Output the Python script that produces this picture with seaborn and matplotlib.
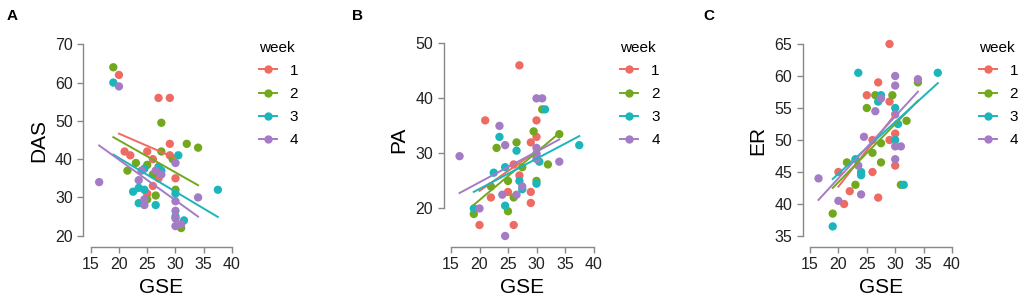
import numpy as np
import matplotlib
matplotlib.use("Agg")
import matplotlib.pyplot as plt
from matplotlib.lines import Line2D
import seaborn as sns
import pandas as pd

# (GSE, score) pairs, one list per week and panel
das_w1 = [(20, 62), (27, 56), (29, 56), (29, 44), (21, 42), (22, 41), (25, 42), (29, 41),
          (26, 40), (30, 35), (27, 35), (26, 33), (25, 31)]
das_w2 = [(19, 64), (27.5, 49.5), (32, 44), (34, 43), (27.5, 42), (29.5, 40), (23, 39),
          (25, 38.5), (21.5, 37), (26, 36), (30, 32), (26.5, 30.5), (25, 29.5), (31, 22)]
das_w3 = [(19, 60), (30.5, 41), (27, 38), (27.5, 37), (24.5, 37.5), (23.5, 32.5), (24.5, 32),
          (22.5, 31.5), (30, 31), (23.5, 28.5), (26.5, 28), (30, 25), (31.5, 24), (37.5, 32)]
das_w4 = [(16.5, 34), (20, 59), (30, 39), (24, 37), (26.5, 37), (27.5, 36), (23.5, 34.5),
          (24.5, 29.5), (24.5, 28), (30, 29), (30, 26.5), (30, 24.5), (30, 22.5), (31, 23), (34, 30)]

pa_w1 = [(27, 46), (21, 36), (30, 36), (30, 33), (29, 32), (26, 28), (27, 26), (25, 23),
         (29, 23), (22, 22), (29, 21), (20, 17), (26, 17)]
pa_w2 = [(19, 19), (23, 31), (26.5, 32), (29.5, 34), (31, 38), (34, 33.5), (32, 28), (27.5, 27.5),
         (25, 25), (30, 25), (22, 24), (26, 22), (25, 19.5)]
pa_w3 = [(19, 20), (23.5, 33), (26.5, 30.5), (24.5, 27.5), (22.5, 26.5), (27, 25), (27.5, 23.5),
         (30, 24.5), (30.5, 28.5), (31.5, 38), (24.5, 20.5), (37.5, 31.5)]
pa_w4 = [(16.5, 29.5), (20, 20), (23.5, 35), (24.5, 31.5), (24, 22.5), (26.5, 22.5), (27.5, 24),
         (24.5, 15), (30, 40), (31, 40), (30, 31), (30, 30), (30, 29.5), (30, 29), (34, 28.5)]

er_w1 = [(29, 65), (27, 59), (25, 57), (29, 56), (30, 51), (29, 50), (26, 50), (30, 46),
         (26, 45), (20, 45), (22, 42), (21, 40), (27, 41)]
er_w2 = [(19, 38.5), (21.5, 46.5), (23, 43), (25, 55), (26.5, 57), (29.5, 57), (26, 48),
         (27.5, 49.5), (27.5, 46.5), (31, 43), (32, 53), (34, 59)]
er_w3 = [(19, 36.5), (23.5, 60.5), (27, 56), (27.5, 57), (30, 55), (30.5, 52.5), (30, 50),
         (24, 45), (24, 44.5), (31.5, 43), (23, 47), (37.5, 60.5)]
er_w4 = [(16.5, 44), (20, 40.5), (23.5, 46), (24.5, 50.5), (26.5, 54.5), (27.5, 56.5), (30, 60),
         (30, 58.5), (30, 54), (30, 49), (31, 49), (30, 47), (24, 41.5), (34, 59.5)]

weeks = ["1", "2", "3", "4"]
colors = ["#EE6B63", "#72A81E", "#1BB6BC", "#A47CC6"]

W, H = 1021, 306
fig = plt.figure(figsize=(W / 100, H / 100), dpi=100)
plt.rcParams["font.family"] = ["Liberation Sans", "DejaVu Sans"]


def frame(rows, name):
    recs = []
    for wk, pts in zip(weeks, rows):
        for x, y in pts:
            recs.append({"GSE": x, name: y, "week": wk})
    return pd.DataFrame(recs)


panels = [
    ("A", 7, "DAS", [das_w1, das_w2, das_w3, das_w4], (90.7, 232), (44.3, 235.7), (20, 70), [20, 30, 40, 50, 60, 70]),
    ("B", 352, "PA", [pa_w1, pa_w2, pa_w3, pa_w4], (451, 593.5), (43.3, 236), (15, 50), [20, 30, 40, 50]),
    ("C", 703, "ER", [er_w1, er_w2, er_w3, er_w4], (810, 952), (44, 236), (35, 65), [35, 40, 45, 50, 55, 60, 65]),
]

for letter, lx, name, rows, (xl, xr), (yt, yb), ylim, yticks in panels:
    ax = fig.add_axes([xl / W, 1 - yb / H, (xr - xl) / W, (yb - yt) / H])
    df = frame(rows, name)
    for wk, c in zip(weeks, colors):
        sub = df[df["week"] == wk]
        sns.regplot(data=sub, x="GSE", y=name, ax=ax, ci=None, scatter=False,
                    color=c, line_kws={"lw": 1.4})
    sns.scatterplot(data=df, x="GSE", y=name, hue="week", palette=colors, ax=ax,
                    s=36, linewidth=0, legend=False, clip_on=False, zorder=1)
    ax.set_xlim(15, 40)
    ax.set_ylim(*ylim)
    ax.set_xticks([15, 20, 25, 30, 35, 40])
    ax.set_yticks(yticks)
    for s in ["top", "right"]:
        ax.spines[s].set_visible(False)
    ax.spines["left"].set_position(("outward", 5.4))
    ax.spines["bottom"].set_position(("outward", 7.9))
    ax.spines["left"].set_bounds(yticks[0], yticks[-1])
    ax.spines["bottom"].set_bounds(15, 40)
    for s in ["left", "bottom"]:
        ax.spines[s].set_color("#888888")
        ax.spines[s].set_linewidth(1.0)
    ax.tick_params(length=4.5, width=1.0, color="#888888", labelsize=11.5, labelcolor="#222222", pad=3)
    ax.set_xlabel("GSE", fontsize=15, labelpad=4)
    ax.set_ylabel(name, fontsize=15, labelpad=5)
    ax.patch.set_visible(False)

    fig.text(lx / W, 1 - 16 / H, letter, fontsize=11, fontweight="bold", va="center")

    handles = [Line2D([], [], color=c, marker="o", markersize=5, lw=1.4) for c in colors]
    fig.legend(handles, weeks, title="week", loc="upper left",
               bbox_to_anchor=((xr + 19) / W, 1 - 33 / H), frameon=False,
               fontsize=11, title_fontsize=11, alignment="left", borderpad=0,
               handlelength=1.18, handletextpad=0.85, labelspacing=0.6)

fig.savefig("out.png", dpi=100)
